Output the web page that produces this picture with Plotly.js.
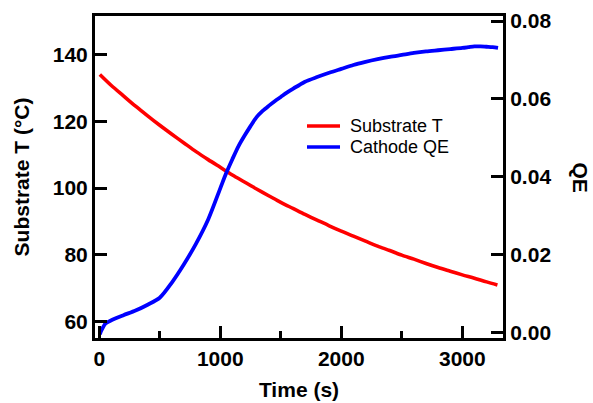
<!DOCTYPE html>
<html>
<head>
<meta charset="utf-8">
<script src="https://cdn.plot.ly/plotly-3.0.1.min.js"></script>
<style>html,body{margin:0;padding:0;background:#fff;}#chart{width:593px;height:403px;}</style>
</head>
<body>
<div id="chart"></div>
<script>
// Substrate temperature (°C) vs time (s)
const tempTime = [5,100,200,300,400,500,600,700,800,900,1000,1100,1200,1300,1400,1500,1600,1700,1800,1900,2000,2100,2200,2300,2400,2500,2600,2700,2800,2900,3000,3100,3200,3290];
const tempValues = [134.0,130.7,127.6,124.5,121.6,118.8,116.1,113.5,110.9,108.5,106.2,103.9,101.8,99.7,97.7,95.7,93.9,92.1,90.4,88.7,87.1,85.6,84.1,82.6,81.3,79.9,78.7,77.4,76.2,75.1,74.0,73.0,71.9,71.0];

// Cathode QE vs time (s)
const qeTime = [5,20,50,100,200,300,400,500,600,700,800,900,1000,1050,1100,1150,1200,1250,1300,1350,1400,1450,1500,1550,1600,1650,1700,1800,1900,2000,2100,2200,2300,2400,2500,2600,2700,2800,2900,3000,3050,3100,3150,3200,3250,3295];
const qeValues = [-0.0005,0.0006,0.0022,0.0031,0.0044,0.0056,0.0071,0.0089,0.0128,0.0175,0.0228,0.0290,0.0370,0.0410,0.0445,0.0478,0.0505,0.0530,0.0553,0.0569,0.0582,0.0594,0.0605,0.0616,0.0626,0.0635,0.0644,0.0656,0.0667,0.0677,0.0687,0.0695,0.0702,0.0708,0.0713,0.0718,0.0722,0.0725,0.0728,0.0731,0.0733,0.0735,0.0735,0.0734,0.0733,0.0731];

const xTickVals = [0,1000,2000,3000];
const yTickVals = [60,80,100,120,140];
const y2TickVals = [0,0.02,0.04,0.06,0.08];
const y2TickText = ["0.00","0.02","0.04","0.06","0.08"];
const seriesNames = ["Substrate T", "Cathode QE"];
const seriesColors = ["#ff0000", "#0000ff"];

const FONT = "Liberation Sans, Arial, sans-serif";

const traces = [
  {x: tempTime, y: tempValues, type: "scatter", mode: "lines", name: seriesNames[0],
   line: {color: seriesColors[0], width: 3.6, shape: "spline", smoothing: 0.8}, yaxis: "y"},
  {x: qeTime, y: qeValues, type: "scatter", mode: "lines", name: seriesNames[1],
   line: {color: seriesColors[1], width: 3.8, shape: "spline", smoothing: 0.8}, yaxis: "y2"}
];

// manual legend (paper coordinates)
const legRows = [0.6584, 0.5932];
const shapes = [];
const annotations = [];
seriesNames.forEach((n, i) => {
  shapes.push({type: "line", xref: "paper", yref: "paper", x0: 0.5196, x1: 0.6005,
               y0: legRows[i], y1: legRows[i], line: {color: seriesColors[i], width: 3.5}});
  annotations.push({text: n, xref: "paper", yref: "paper", x: 0.6201, y: legRows[i],
                    xanchor: "left", yanchor: "middle", showarrow: false,
                    font: {family: FONT, size: 18, color: "#000"}});
});
annotations.push({text: "QE", xref: "paper", yref: "paper", x: 1.19, y: 0.5, showarrow: false,
  textangle: 90, font: {family: FONT, size: 21, weight: "bold", color: "#000"},
  xanchor: "center", yanchor: "middle"});

const layout = {
  width: 593, height: 403,
  margin: {l: 95, r: 90, t: 16, b: 65},
  paper_bgcolor: "#fff", plot_bgcolor: "#fff",
  font: {family: FONT, color: "#000"},
  showlegend: false,
  xaxis: {
    range: [-35, 3336], showgrid: false, zeroline: false,
    showline: true, linewidth: 3, linecolor: "#000", mirror: true,
    ticks: "inside", ticklen: 12, tickwidth: 3, tickcolor: "#000",
    tickvals: xTickVals, ticktext: xTickVals.map(String),
    tickfont: {family: FONT, size: 21, weight: "bold"},
    minor: {dtick: 500, tick0: 0, ticks: "inside", ticklen: 7, tickwidth: 3, tickcolor: "#000", showgrid: false},
    title: {text: "Time (s)", font: {family: FONT, size: 21, weight: "bold"}, standoff: 14}
  },
  yaxis: {
    range: [55.1, 151.5], showgrid: false, zeroline: false,
    showline: true, linewidth: 3, linecolor: "#000",
    ticks: "inside", ticklen: 12, tickwidth: 3, tickcolor: "#000",
    tickvals: yTickVals, ticktext: yTickVals.map(String),
    tickfont: {family: FONT, size: 21, weight: "bold"},
    title: {text: "Substrate T (°C)", font: {family: FONT, size: 21, weight: "bold"}, standoff: 18}
  },
  yaxis2: {
    range: [-0.00146, 0.0813], overlaying: "y", side: "right",
    showgrid: false, zeroline: false,
    showline: true, linewidth: 3, linecolor: "#000",
    ticks: "inside", ticklen: 12, tickwidth: 3, tickcolor: "#000",
    tickvals: y2TickVals, ticktext: y2TickText,
    tickfont: {family: FONT, size: 21, weight: "bold"}
  },
  shapes: shapes,
  annotations: annotations
};

Plotly.newPlot("chart", traces, layout, {displayModeBar: false, staticPlot: true});
</script>
</body>
</html>
